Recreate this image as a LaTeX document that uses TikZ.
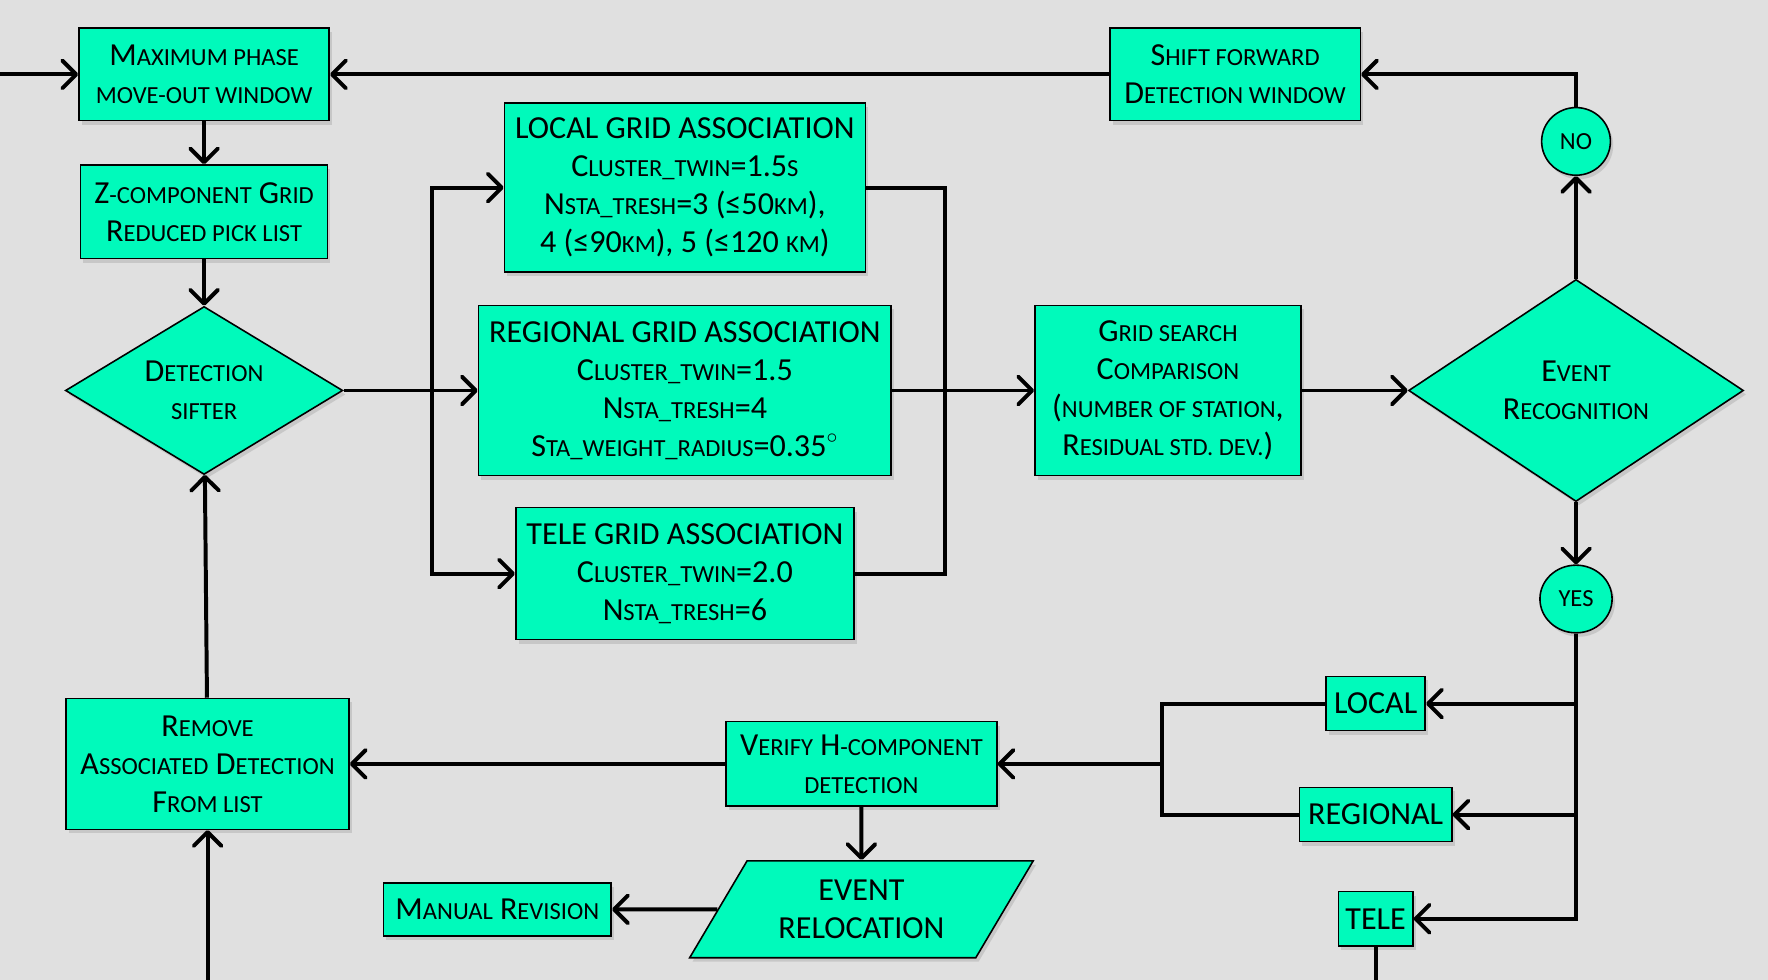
\documentclass[tikz,border=0pt]{standalone}
\usepackage{fontspec}
\setmainfont{Carlito}
\usetikzlibrary{arrows.meta, positioning, shapes.geometric, shadows}
\definecolor{boxgreen}{RGB}{0,250,187}
\definecolor{paper}{RGB}{224,224,224}
% lower-case letters set as small capitals
\newcommand{\lc}[1]{{\fontsize{12.4}{19.2}\selectfont\MakeUppercase{#1}}}

\begin{document}
\begin{tikzpicture}[
  every node/.style={font=\fontsize{16.2}{19.2}\selectfont, align=center},
  box/.style={draw, fill=boxgreen, line width=0.8pt, inner sep=2pt,
    drop shadow={opacity=0.25, shadow xshift=0.05cm, shadow yshift=-0.07cm}},
  decision/.style={box, diamond, inner sep=0pt, aspect=1.6},
  answer/.style={box, ellipse, inner sep=0pt},
  slanted/.style={box, trapezium, trapezium left angle=58, trapezium right angle=122,
    trapezium stretches=true, inner xsep=0pt},
  flow/.style={-{Straight Barb[round, length=7pt, width=14pt]}, line width=2pt},
  link/.style={line width=2pt}
]

% Canvas
\fill[paper] (0,0) rectangle (31.36,-17.38);
\useasboundingbox (0,0) rectangle (31.36,-17.38);
\coordinate (entry) at (0,-1.32);
\coordinate (floor) at (0,-17.38);

% Nodes
\node[box, minimum width=4.44cm, minimum height=1.64cm] (maxphase) at (3.62,-1.32) {M\lc{aximum phase}\\\lc{move-out window}};
\node[box, minimum width=4.38cm, minimum height=1.66cm, below=0.76cm of maxphase] (zcomp) {Z\lc{-component} G\lc{rid}\\R\lc{educed pick list}};
\node[decision, minimum width=4.92cm, minimum height=2.98cm, below=0.82cm of zcomp] (sifter) {D\lc{etection}\\\lc{sifter}};
\node[box, minimum width=7.32cm, minimum height=3.02cm, right=2.38cm of sifter] (regional) {REGIONAL GRID ASSOCIATION\\C\lc{luster\_twin}=1.5\\N\lc{sta\_tresh}=4\\S\lc{ta\_weight\_radius}=0.35\textsuperscript{$\circ$}};
\node[box, minimum width=6.4cm, minimum height=3.0cm, above=0.56cm of regional] (localgrid) {LOCAL GRID ASSOCIATION\\C\lc{luster\_twin}=1.5\lc{s}\\N\lc{sta\_tresh}=3 (≤50\lc{km}),\\4 (≤90\lc{km}), 5 (≤120 \lc{km})};
\node[box, minimum width=6.0cm, minimum height=2.34cm, below=0.54cm of regional] (telegrid) {TELE GRID ASSOCIATION\\C\lc{luster\_twin}=2.0\\N\lc{sta\_tresh}=6};
\node[box, minimum width=4.72cm, minimum height=3.02cm, right=2.52cm of regional] (gridsearch) {G\lc{rid search}\\C\lc{omparison}\\(\lc{number of station},\\R\lc{esidual std. dev.})};
\node[decision, minimum width=5.94cm, minimum height=3.94cm, right=1.88cm of gridsearch] (eventrec) {E\lc{vent}\\R\lc{ecognition}};
\node[answer, minimum width=1.22cm, minimum height=1.2cm, above=1.82cm of eventrec] (no) {\lc{no}};
\node[box, minimum width=4.44cm, minimum height=1.64cm, right=13.82cm of maxphase] (shift) {S\lc{hift forward}\\D\lc{etection window}};
\node[answer, minimum width=1.28cm, minimum height=1.2cm, below=1.1cm of eventrec] (yes) {\lc{yes}};
\node[box, minimum width=1.76cm, minimum height=0.96cm] (localbox) at (24.40,-12.48) {LOCAL};
\node[box, minimum width=2.7cm, minimum height=0.96cm, below=0.98cm of localbox] (regionalbox) {REGIONAL};
\node[box, minimum width=1.32cm, minimum height=0.96cm, below=0.86cm of regionalbox] (telebox) {TELE};
\node[box, minimum width=4.8cm, minimum height=1.5cm] (verify) at (15.28,-13.55) {V\lc{erify} H\lc{-component}\\\lc{detection}};
\node[box, minimum width=5.02cm, minimum height=2.32cm, left=6.66cm of verify] (remove) {R\lc{emove}\\A\lc{ssociated} D\lc{etection}\\F\lc{rom list}};
\node[slanted, minimum width=6.1cm, minimum height=1.72cm, below=0.94cm of verify] (reloc) {EVENT\\RELOCATION};
\node[box, minimum width=4.04cm, minimum height=0.94cm, left=1.87cm of reloc] (manual) {M\lc{anual} R\lc{evision}};

\coordinate[right=1.56cm of sifter.east] (fork);
\coordinate[right=0.94cm of regional.east] (join);
\coordinate[right=2.92cm of verify.east] (merge);

% Connectors
\draw[flow] (entry) -- (maxphase);
\draw[flow] (shift) -- (maxphase);
\draw[flow] (no.north) |- (shift.east);
\draw[flow] (eventrec) -- (no);
\draw[flow] (maxphase) -- (zcomp);
\draw[flow] (zcomp) -- (sifter);
\draw[flow] (sifter) -- (regional);
\draw[flow] (fork) |- (localgrid.west);
\draw[flow] (fork) |- (telegrid.west);
\draw[link] (localgrid.east) -| (join) |- (telegrid.east);
\draw[flow] (regional) -- (gridsearch);
\draw[flow] (gridsearch) -- (eventrec);
\draw[flow] (eventrec) -- (yes);
\draw[flow] (yes.south) |- (telebox.east);
\draw[flow] (yes.south |- localbox) -- (localbox.east);
\draw[flow] (yes.south |- regionalbox) -- (regionalbox.east);
\draw[link] (localbox.west) -| (merge) |- (regionalbox.west);
\draw[flow] (merge) -- (verify.east);
\draw[flow] (verify) -- (remove);
\draw[flow] (verify) -- (reloc);
\draw[flow] (reloc) -- (manual);
\draw[flow] (remove) -- (sifter);
\draw[flow] (remove.south |- floor) -- (remove);
\draw[link] (telebox) -- (telebox.south |- floor);

\end{tikzpicture}
\end{document}
